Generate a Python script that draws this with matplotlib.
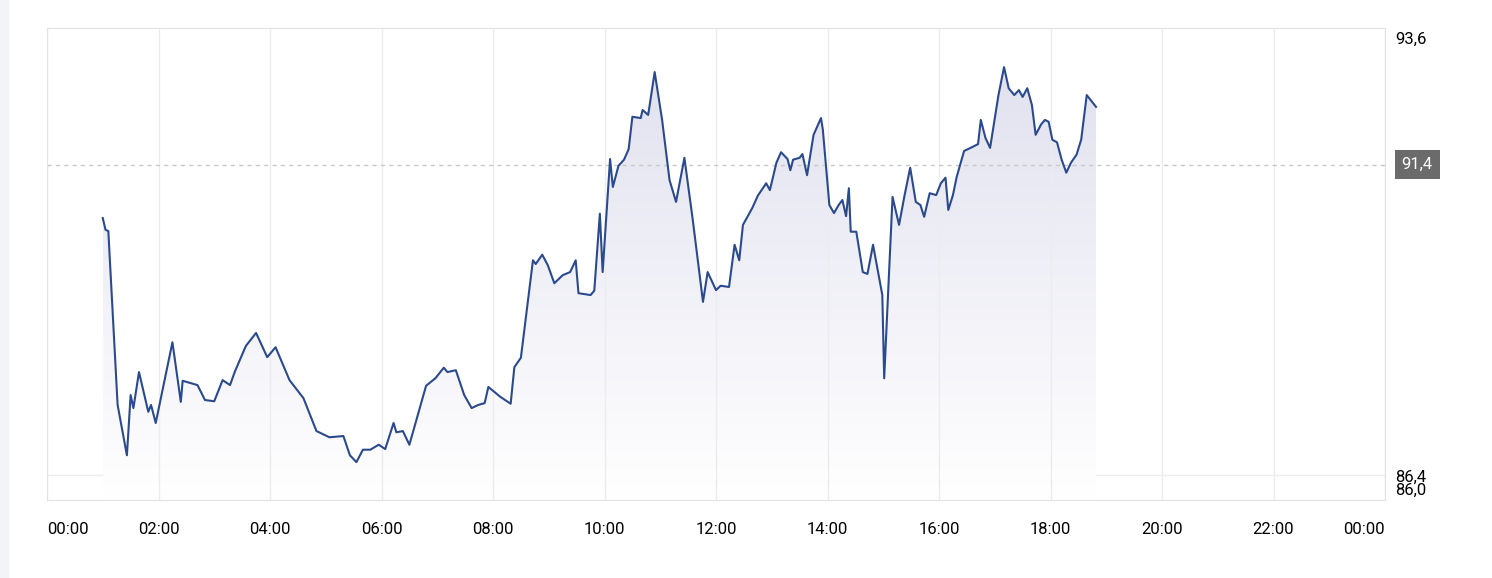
import matplotlib
matplotlib.use("Agg")
import matplotlib.pyplot as plt
import numpy as np
from matplotlib.patches import Polygon

minutes = [60,63,66,76,86,90,93,99,109,112,117,135,144,146,162,170,180,189,197,202,214,225,237,246,261,276,290,304,319,326,333,340,348,357,364,373,376,383,390,408,418,427,431,440,449,457,464,471,475,488,499,503,510,523,526,533,539,546,555,563,569,572,585,589,593,595,598,606,609,615,621,626,630,639,641,647,654,662,670,677,686,695,706,711,720,725,734,740,745,749,759,765,774,778,785,790,797,800,803,810,813,818,825,833,835,842,847,852,856,860,863,865,871,878,883,889,899,901,910,917,923,929,935,940,944,950,957,962,967,970,975,979,987,994,1002,1005,1010,1015,1024,1030,1035,1041,1046,1050,1055,1060,1064,1070,1074,1078,1082,1087,1092,1097,1102,1108,1113,1119,1129]
values = [90.54,90.35,90.33,87.53,86.72,87.69,87.48,88.06,87.42,87.53,87.24,88.54,87.58,87.92,87.85,87.61,87.59,87.93,87.85,88.06,88.48,88.69,88.30,88.46,87.93,87.64,87.11,87.01,87.03,86.72,86.61,86.81,86.81,86.89,86.82,87.24,87.09,87.11,86.89,87.84,87.96,88.13,88.06,88.09,87.69,87.48,87.53,87.56,87.82,87.66,87.55,88.14,88.29,89.86,89.80,89.95,89.78,89.49,89.62,89.67,89.86,89.33,89.30,89.37,90.19,90.61,89.67,91.49,91.04,91.38,91.48,91.65,92.17,92.15,92.28,92.20,92.89,92.12,91.15,90.80,91.51,90.51,89.19,89.67,89.38,89.45,89.43,90.11,89.86,90.43,90.70,90.90,91.10,90.99,91.43,91.60,91.49,91.31,91.48,91.51,91.57,91.23,91.88,92.15,91.96,90.75,90.62,90.75,90.83,90.57,91.02,90.32,90.32,89.67,89.64,90.11,89.30,87.96,90.88,90.43,90.91,91.35,90.80,90.75,90.56,90.94,90.91,91.10,91.19,90.67,90.91,91.20,91.62,91.67,91.73,92.12,91.83,91.67,92.52,92.97,92.63,92.52,92.60,92.49,92.63,92.36,91.88,92.05,92.12,92.09,91.80,91.76,91.48,91.27,91.43,91.56,91.80,92.52,92.33]
tick_labels = ["00:00","02:00","04:00","06:00","08:00","10:00","12:00","14:00","16:00","18:00","20:00","22:00","00:00"]
y_labels = ["93,6","86,4","86,0"]
ref_value = 91.4
ref_label = "91,4"
ymin, ymax = 86.0, 93.6

fig = plt.figure(figsize=(14.92, 5.78), dpi=100)
fig.patches.append(plt.Rectangle((0, 0), 8/1492, 1, transform=fig.transFigure, color="#f3f4f8", zorder=0))
ax = fig.add_axes([47/1492, 1-500/578, 1338/1492, 472/578])
x = np.array(minutes); y = np.array(values)

grad = np.linspace(0, 1, 256).reshape(-1, 1)
cmap = matplotlib.colors.LinearSegmentedColormap.from_list("g", ["#ffffff", "#e2e2f0"])
im = ax.imshow(grad, extent=[x.min(), x.max(), ymin, y.max()], origin="lower", aspect="auto", cmap=cmap, zorder=1)
poly = Polygon(np.vstack([[x[0], ymin], np.column_stack([x, y]), [x[-1], ymin]]), closed=True, transform=ax.transData)
im.set_clip_path(poly)
ax.plot(x, y, color="#2b4a8b", lw=1.5, zorder=3)

ax.set_xlim(0, 1440)
ax.set_ylim(ymin, ymax)
ax.set_xticks(np.arange(0, 1441, 120))
ax.set_xticklabels(tick_labels, fontsize=12, family="Roboto")
labs = ax.get_xticklabels()
labs[0].set_horizontalalignment("left")
labs[-1].set_horizontalalignment("right")
ax.tick_params(axis="x", length=0, pad=16)
ax.set_yticks([])
ax.grid(axis="x", color="#ececec", lw=1)
ax.axhline(86.4, color="#ececec", lw=1, zorder=0)
ax.axhline(ref_value, color="#c8c8c8", lw=1, ls=(0, (3, 3)), zorder=2)
for s in ax.spines.values():
    s.set_color("#e3e3e3")

tr = ax.get_yaxis_transform()
ax.text(1.0075, 93.42, y_labels[0], transform=tr, fontsize=12, family="Roboto", va="center", ha="left")
ax.text(1.0075, 86.36, y_labels[1], transform=tr, fontsize=12, family="Roboto", va="center", ha="left")
ax.text(1.0075, 86.15, y_labels[2], transform=tr, fontsize=12, family="Roboto", va="center", ha="left")
ax.text(1.0125, ref_value, ref_label, transform=tr, fontsize=12, family="Roboto", va="center", ha="left",
        color="white", bbox=dict(boxstyle="square,pad=0.4", fc="#6b6b6b", ec="none"))

fig.savefig("out.png", dpi=100)
